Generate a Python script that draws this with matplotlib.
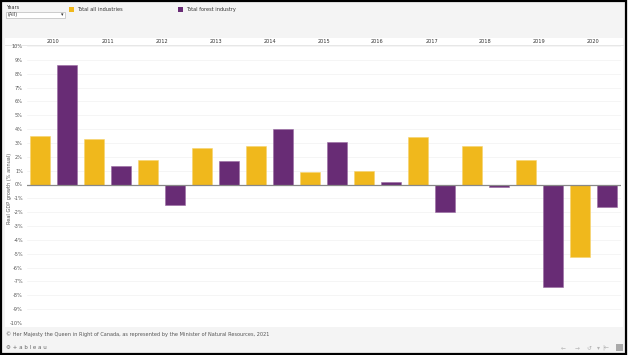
import numpy as np
import matplotlib

matplotlib.use("Agg")
import matplotlib.pyplot as plt
from matplotlib.patches import Rectangle

years = ["2010", "2011", "2012", "2013", "2014", "2015", "2016", "2017", "2018", "2019", "2020"]
all_industries = [3.5, 3.3, 1.8, 2.6, 2.8, 0.9, 1.0, 3.4, 2.8, 1.8, -5.2]
forest_industry = [8.6, 1.3, -1.45, 1.7, 4.0, 3.1, 0.2, -2.0, -0.15, -7.4, -1.6]
y_ticks = list(range(-10, 11))
y_labels = [f"{v}%" for v in y_ticks]

W, H = 628, 355
YELLOW = "#F0B81C"
PURPLE = "#682C75"
GRAY_BG = "#F4F4F4"
TXT = "#555555"
FS = 3.6

fig = plt.figure(figsize=(W / 100, H / 100), dpi=100, facecolor=GRAY_BG)


def px_rect(x0, y0, x1, y1):
    # pixel box (top-left origin) -> figure fraction [l, b, w, h]
    return [x0 / W, 1 - y1 / H, (x1 - x0) / W, (y1 - y0) / H]


def fx(x):
    return x / W


def fy(y):
    return 1 - y / H


# white chart region and outer frame
l, b, w, h = px_rect(5, 38, 622.5, 326.5)
fig.patches.append(Rectangle((l, b), w, h, transform=fig.transFigure, facecolor="white", edgecolor="none", zorder=-2))
fig.patches.append(Rectangle((0.002, 0.003), 0.995, 0.994, transform=fig.transFigure, facecolor="none",
                             edgecolor="black", linewidth=1.6, zorder=10))
fig.add_artist(plt.Line2D([fx(5), fx(622.5)], [fy(45), fy(45)], transform=fig.transFigure, color="#E3E3E3",
                          linewidth=0.6, zorder=-1))

# header: filter and legend
fig.text(fx(6), fy(7.5), "Years", fontsize=FS, color="#333333", va="center")
l, b, w, h = px_rect(6, 11.5, 65, 17.5)
fig.patches.append(Rectangle((l, b), w, h, transform=fig.transFigure, facecolor="white", edgecolor="#BBBBBB", linewidth=0.5))
fig.text(fx(8), fy(14.5), "(All)", fontsize=FS, color="#333333", va="center")
fig.text(fx(62), fy(14.5), "\u25be", fontsize=FS, color="#333333", va="center", ha="center")
for x0, color, label in [(69, YELLOW, "Total all industries"), (178, PURPLE, "Total forest industry")]:
    l, b, w, h = px_rect(x0, 7, x0 + 4.5, 11.5)
    fig.patches.append(Rectangle((l, b), w, h, transform=fig.transFigure, facecolor=color, edgecolor="none"))
    fig.text(fx(x0 + 8), fy(9.2), label, fontsize=FS, color="#333333", va="center")

# main plot
ax = fig.add_axes(px_rect(26.5, 46, 620.5, 323))
x = np.arange(len(years))
bw = 20 / 54
ax.bar(x - 0.25, all_industries, bw, color=YELLOW, edgecolor="#F6D36E", linewidth=0.4, zorder=3)
ax.bar(x + 0.25, forest_industry, bw, color=PURPLE, edgecolor="#9A6BA3", linewidth=0.4, zorder=3)
ax.axhline(0, color="#888888", linewidth=0.9, zorder=4)
ax.set_xlim(-0.5, len(years) - 0.5)
ax.set_ylim(-10, 10)
ax.set_yticks(y_ticks)
ax.set_yticklabels(y_labels)
ax.set_xticks(x)
ax.set_xticklabels(years)
ax.xaxis.tick_top()
ax.tick_params(axis="x", length=0, pad=1.2, labelsize=FS, labelcolor="#333333")
ax.tick_params(axis="y", length=0, pad=2.6, labelsize=FS, labelcolor=TXT)
ax.grid(axis="y", color="#F2F2F2", linewidth=0.5, zorder=0)
for s in ax.spines.values():
    s.set_visible(False)
ax.set_facecolor("none")
fig.text(fx(10), fy(188), "Real GDP growth (% annual)", fontsize=FS, color=TXT, rotation=90, va="center", ha="center")

# footer
fig.text(fx(6), fy(334.5), "\u00a9 Her Majesty the Queen in Right of Canada, as represented by the Minister of Natural Resources, 2021",
         fontsize=FS, color=TXT, va="center")
fig.text(fx(6), fy(347.5), "\u2699 + a b l e a u", fontsize=FS + 0.4, color="#666666", va="center")
for xp, s in [(563, "\u2190"), (577, "\u2192"), (589, "\u21ba"), (598, "\u25be"), (606, "|\u2190")]:
    fig.text(fx(xp), fy(347.5), s, fontsize=FS + 0.6, color="#B5B5B5", va="center", ha="center")
l, b, w, h = px_rect(616, 344, 623, 351)
fig.patches.append(Rectangle((l, b), w, h, transform=fig.transFigure, facecolor="#AAAAAA", edgecolor="none"))

fig.savefig("out.png", dpi=100, facecolor=fig.get_facecolor())
